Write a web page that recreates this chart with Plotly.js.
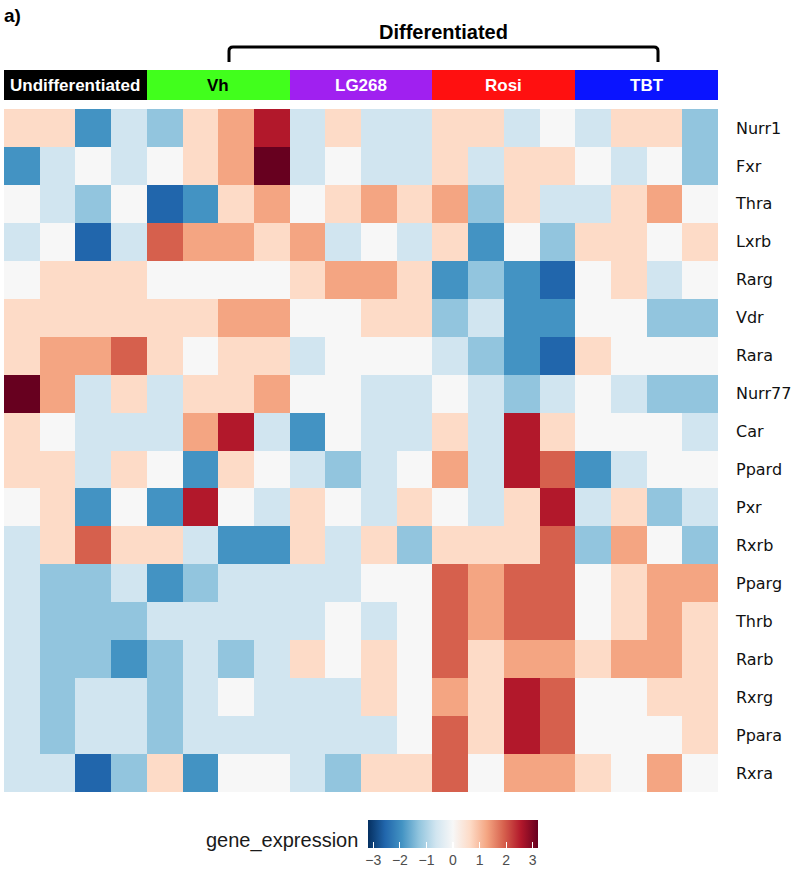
<!DOCTYPE html>
<html>
<head>
<meta charset="utf-8">
<script src="https://cdn.plot.ly/plotly-3.0.1.min.js"></script>
<style>html,body{margin:0;padding:0;background:#fff;}#chart{width:800px;height:870px;}</style>
</head>
<body>
<div id="chart"></div>
<script>
// ---- data ----
const genes = ["Nurr1","Fxr","Thra","Lxrb","Rarg","Vdr","Rara","Nurr77","Car","Ppard","Pxr","Rxrb","Pparg","Thrb","Rarb","Rxrg","Ppara","Rxra"];
const samples = ["U1","U2","U3","U4","Vh1","Vh2","Vh3","Vh4","LG1","LG2","LG3","LG4","Ro1","Ro2","Ro3","Ro4","TB1","TB2","TB3","TB4"];
const groupNames = ["Undifferentiated","Vh","LG268","Rosi","TBT"];
const sampleGroup = [0,0,0,0,1,1,1,1,2,2,2,2,3,3,3,3,4,4,4,4];
const groupColors = ["#000000","#41FF1C","#A020F0","#FF1010","#0A14FF"];
const groupTextColors = ["#ffffff","#000000","#ffffff","#ffffff","#ffffff"];

const Nurr1  = [0.5,0.5,-1.6,-0.5,-1.1,0.5,1.1,2.2,-0.5,0.5,-0.5,-0.5,0.5,0.5,-0.5,0,-0.5,0.5,0.5,-1.1];
const Fxr    = [-1.6,-0.5,0,-0.5,0,0.5,1.1,2.8,-0.5,0,-0.5,-0.5,0.5,-0.5,0.5,0.5,0,-0.5,0,-1.1];
const Thra   = [0,-0.5,-1.1,0,-2.2,-1.6,0.5,1.1,0,0.5,1.1,0.5,1.1,-1.1,0.5,-0.5,-0.5,0.5,1.1,0];
const Lxrb   = [-0.5,0,-2.2,-0.5,1.6,1.1,1.1,0.5,1.1,-0.5,0,-0.5,0.5,-1.6,0,-1.1,0.5,0.5,0,0.5];
const Rarg   = [0,0.5,0.5,0.5,0,0,0,0,0.5,1.1,1.1,0.5,-1.6,-1.1,-1.6,-2.2,0,0.5,-0.5,0];
const Vdr    = [0.5,0.5,0.5,0.5,0.5,0.5,1.1,1.1,0,0,0.5,0.5,-1.1,-0.5,-1.6,-1.6,0,0,-1.1,-1.1];
const Rara   = [0.5,1.1,1.1,1.6,0.5,0,0.5,0.5,-0.5,0,0,0,-0.5,-1.1,-1.6,-2.2,0.5,0,0,0];
const Nurr77 = [2.8,1.1,-0.5,0.5,-0.5,0.5,0.5,1.1,0,0,-0.5,-0.5,0,-0.5,-1.1,-0.5,0,-0.5,-1.1,-1.1];
const Car    = [0.5,0,-0.5,-0.5,-0.5,1.1,2.2,-0.5,-1.6,0,-0.5,-0.5,0.5,-0.5,2.2,0.5,0,0,0,-0.5];
const Ppard  = [0.5,0.5,-0.5,0.5,0,-1.6,0.5,0,-0.5,-1.1,-0.5,0,1.1,-0.5,2.2,1.6,-1.6,-0.5,0,0];
const Pxr    = [0,0.5,-1.6,0,-1.6,2.2,0,-0.5,0.5,0,-0.5,0.5,0,-0.5,0.5,2.2,-0.5,0.5,-1.1,-0.5];
const Rxrb   = [-0.5,0.5,1.6,0.5,0.5,-0.5,-1.6,-1.6,0.5,-0.5,0.5,-1.1,0.5,0.5,0.5,1.6,-1.1,1.1,0,-1.1];
const Pparg  = [-0.5,-1.1,-1.1,-0.5,-1.6,-1.1,-0.5,-0.5,-0.5,-0.5,0,0,1.6,1.1,1.6,1.6,0,0.5,1.1,1.1];
const Thrb   = [-0.5,-1.1,-1.1,-1.1,-0.5,-0.5,-0.5,-0.5,-0.5,0,-0.5,0,1.6,1.1,1.6,1.6,0,0.5,1.1,0.5];
const Rarb   = [-0.5,-1.1,-1.1,-1.6,-1.1,-0.5,-1.1,-0.5,0.5,0,0.5,0,1.6,0.5,1.1,1.1,0.5,1.1,1.1,0.5];
const Rxrg   = [-0.5,-1.1,-0.5,-0.5,-1.1,-0.5,0,-0.5,-0.5,-0.5,0.5,0,1.1,0.5,2.2,1.6,0,0,0.5,0.5];
const Ppara  = [-0.5,-1.1,-0.5,-0.5,-1.1,-0.5,-0.5,-0.5,-0.5,-0.5,-0.5,0,1.6,0.5,2.2,1.6,0,0,0,0.5];
const Rxra   = [-0.5,-0.5,-2.2,-1.1,0.5,-1.6,0,0,-0.5,-1.1,0.5,0.5,1.6,0,1.1,1.1,0.5,0,1.1,0];

const expr = [Nurr1,Fxr,Thra,Lxrb,Rarg,Vdr,Rara,Nurr77,Car,Ppard,Pxr,Rxrb,Pparg,Thrb,Rarb,Rxrg,Ppara,Rxra];
const legendTicks = [-3,-2,-1,0,1,2,3];

// ---- styling ----
const palette = ["#053061","#2166AC","#4393C3","#92C5DE","#D1E5F0","#F7F7F7","#FDDBC7","#F4A582","#D6604D","#B2182B","#67001F"];
const stepScale = [];
palette.forEach((c,i)=>{ stepScale.push([i/palette.length,c]); stepScale.push([(i+1)/palette.length,c]); });
const smoothScale = palette.map((c,i)=>[i/(palette.length-1),c]);

const W=800,H=870;
const px=x=>x/W, py=y=>1-y/H;

const heat = {
  type:'heatmap', x:samples, y:genes, z:expr,
  colorscale:stepScale, zmin:-3, zmax:3, showscale:false,
  xaxis:'x', yaxis:'y', hoverinfo:'x+y+z'
};
const groupBar = {
  type:'heatmap', x:samples, y:['group'], z:[sampleGroup],
  colorscale:groupColors.map((c,i)=>[[i/5,c],[(i+1)/5,c]]).flat(),
  zmin:-0.5, zmax:4.5, showscale:false, xaxis:'x', yaxis:'y2', hoverinfo:'skip'
};
const legendTrace = {
  type:'scatter', mode:'markers', x:[0], y:[0], xaxis:'x2', yaxis:'y3',
  hoverinfo:'skip', showlegend:false,
  marker:{size:1, opacity:0, color:[0], cmin:-3.2, cmax:3.2, colorscale:smoothScale, showscale:true,
    colorbar:{orientation:'h', x:px(453), xanchor:'center', y:py(820), yanchor:'top',
      len:170, lenmode:'pixels', thickness:28, thicknessmode:'pixels', outlinewidth:0,
      xpad:0, ypad:0, tickmode:'array', tickvals:legendTicks, ticktext:legendTicks.map(v=>v<0?'\u2212'+Math.abs(v):String(v)),
      ticks:'inside', ticklen:6, tickcolor:'#ffffff', tickwidth:1.2,
      tickfont:{family:'Liberation Sans, Arial, sans-serif', size:14, color:'#4d4d4d'}}}
};

const groupAnn = groupNames.map((g,i)=>({
  x:i*4+1.5, y:'group', xref:'x', yref:'y2', text:'<b>'+g+'</b>', showarrow:false,
  font:{family:'Liberation Sans, Arial, sans-serif', size:17, color:groupTextColors[i]}
}));

const bx1=229,bx2=658,by1=47,by2=62,r=4;
const bracketPath = `M ${px(bx1)},${py(by2)} L ${px(bx1)},${py(by1+r)} Q ${px(bx1)},${py(by1)} ${px(bx1+r)},${py(by1)} L ${px(bx2-r)},${py(by1)} Q ${px(bx2)},${py(by1)} ${px(bx2)},${py(by1+r)} L ${px(bx2)},${py(by2)}`;

const hidden = {visible:false, showgrid:false, zeroline:false, showticklabels:false, automargin:false};
const layout = {
  width:W, height:H, margin:{l:0,r:0,t:0,b:0,autoexpand:false}, paper_bgcolor:'#fff', plot_bgcolor:'#fff',
  showlegend:false,
  xaxis:{domain:[px(4),px(718)], type:'category', range:[-0.5,samples.length-0.5], showticklabels:false, showgrid:false, zeroline:false, showline:false, ticks:'', automargin:false},
  yaxis:{domain:[py(792),py(109)], type:'category', range:[genes.length-0.5,-0.5], side:'right', showgrid:false, zeroline:false, showline:false, ticks:'', automargin:false,
    ticklabelstandoff:17, tickfont:{family:'DejaVu Sans, sans-serif', size:16, color:'#111'}},
  yaxis2:{domain:[py(100),py(70)], anchor:'x', type:'category', range:[-0.5,0.5], showticklabels:false, showgrid:false, zeroline:false, showline:false, ticks:'', automargin:false},
  xaxis2:Object.assign({domain:[0,0.001], anchor:'y3'}, hidden),
  yaxis3:Object.assign({domain:[0,0.001], anchor:'x2'}, hidden),
  shapes:[{type:'path', xref:'paper', yref:'paper', path:bracketPath, line:{color:'#000', width:3}}],
  annotations:[
    ...groupAnn,
    {xref:'paper', yref:'paper', x:px(2), y:py(3), xanchor:'left', yanchor:'top', showarrow:false,
      text:'<b>a)</b>', font:{family:'Liberation Sans, Arial, sans-serif', size:19, color:'#000'}},
    {xref:'paper', yref:'paper', x:px(443), y:py(32), xanchor:'center', yanchor:'middle', showarrow:false,
      text:'<b>Differentiated</b>', font:{family:'Liberation Sans, Arial, sans-serif', size:20, color:'#000'}},
    {xref:'paper', yref:'paper', x:px(360), y:py(840), xanchor:'right', yanchor:'middle', showarrow:false,
      text:'gene_expression', font:{family:'Liberation Sans, Arial, sans-serif', size:20, color:'#1a1a1a'}}
  ]
};

Plotly.newPlot('chart',[heat,groupBar,legendTrace],layout,{displayModeBar:false,staticPlot:true});
</script>
</body>
</html>
